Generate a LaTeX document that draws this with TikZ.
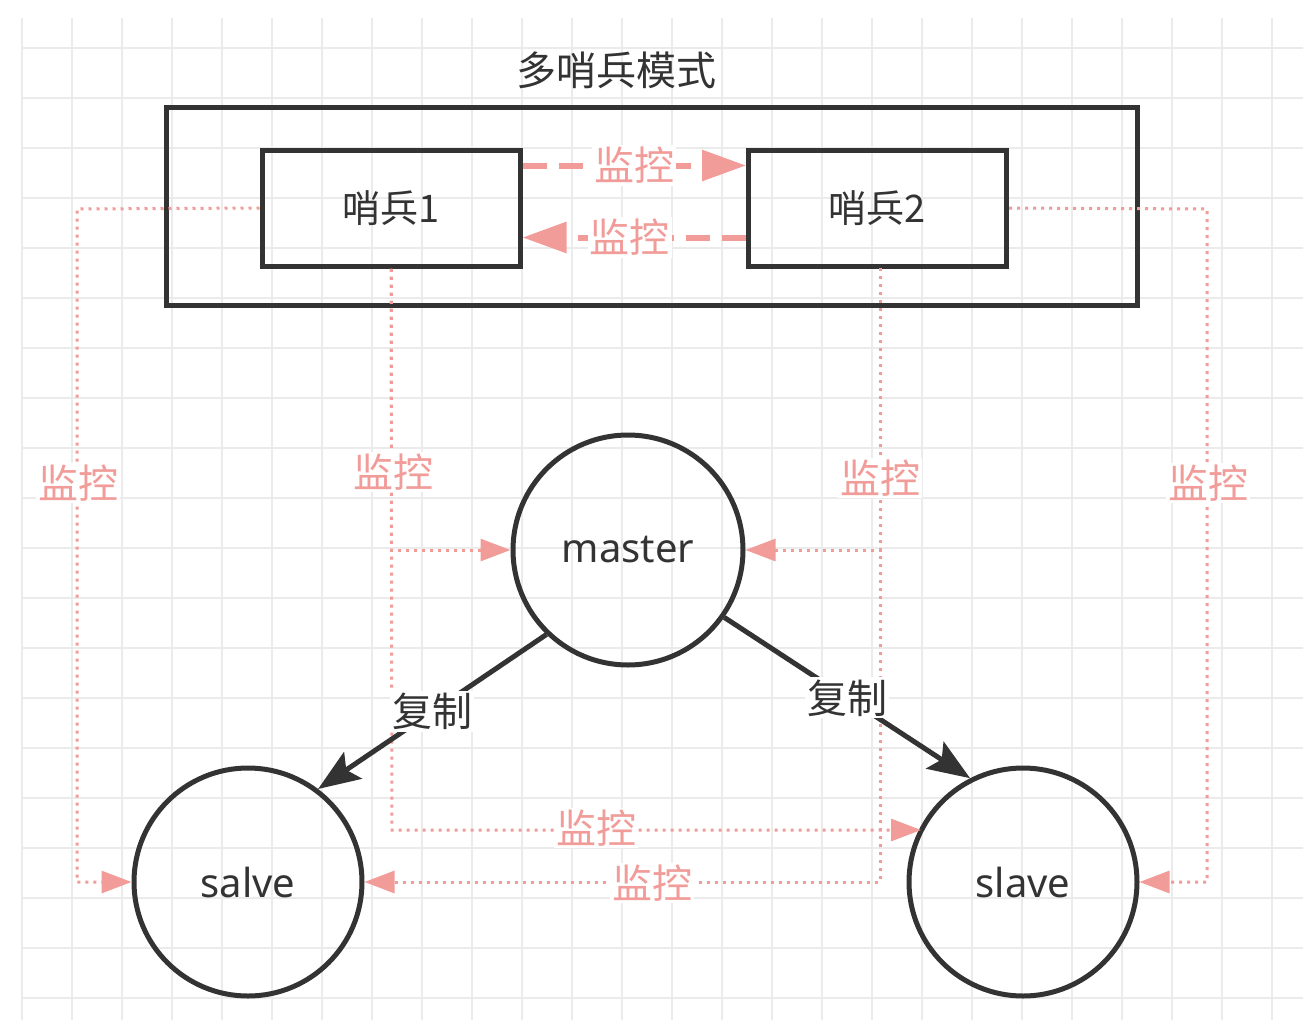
\documentclass[tikz,border=0pt]{standalone}
\usepackage{fontspec}
\setmainfont{Noto Sans CJK SC}
\newfontfamily\latinf{Noto Sans}
\usetikzlibrary{arrows.meta,calc}
\definecolor{pinkc}{HTML}{F19C99}
\definecolor{darkc}{HTML}{333333}
\definecolor{gridc}{HTML}{EBEBEB}
\begin{document}
\begin{tikzpicture}[x=1pt,y=-1pt,
  box/.style={draw=darkc,line width=5pt,minimum width=258pt,minimum height=116pt,inner sep=0pt,
    font=\fontsize{38}{44}\selectfont,text=darkc},
  outerbox/.style={draw=darkc,line width=5pt,minimum width=971pt,minimum height=198pt,inner sep=0pt},
  circ/.style={circle,draw=darkc,line width=5pt,minimum size=228pt,inner sep=0pt,
    font=\latinf\fontsize{40}{46}\selectfont,text=darkc},
  mon/.style={draw=pinkc,line width=3pt,dash pattern=on 3pt off 5pt,-{Triangle[length=30pt,width=22pt]}},
  dash arrow/.style={draw=pinkc,line width=6pt,dash pattern=on 24pt off 12pt,-{Triangle[length=44pt,width=30pt]}},
  lab/.style={fill=white,inner sep=2pt,text=pinkc,font=\fontsize{40}{46}\selectfont},
  copyarrow/.style={draw=darkc,line width=5pt,-{Stealth[length=42pt,width=32pt,inset=8pt]}},
  copylab/.style={fill=white,inner sep=2pt,text=darkc,font=\fontsize{40}{46}\selectfont}
]
\useasboundingbox[fill=white] (0,0) rectangle (1312,1026);
% grid
\foreach \x in {22,72,...,1272} \draw[gridc,line width=1.8pt] (\x,18) -- (\x,1020);
\foreach \y in {48,98,...,998} \draw[gridc,line width=1.8pt] (22,\y) -- (1303,\y);

\node[text=darkc,font=\fontsize{40}{46}\selectfont] (title) at (616,70) {多哨兵模式};
\node[outerbox] (outer) at (651.5,206) {};
\node[box] (s1) at (391,208) {哨兵1};
\node[box] (s2) at (877.5,208) {哨兵2};
\node[circ,minimum size=230pt] (master) at (628,550) {master};
\node[circ] (salve) at (248,882) {salve};
\node[circ] (slave) at (1023,882) {slave};

% dashed arrows between sentinels
\draw[dash arrow] ($(s1.north east)+(0,18)$) -- node[lab]{监控} ($(s2.north west)+(0,18)$);
\draw[dash arrow] ($(s2.south west)+(0,-31)$) -- node[lab,pos=0.52]{监控} ($(s1.south east)+(0,-31)$);

% dotted monitoring paths
\coordinate (c1) at (77,209);
\draw[mon] (s1.west) -- (c1) |- (salve.west);
\node[lab] at (78,483) {监控};

\coordinate (c2) at (392,830);
\draw[mon] (s1.south) |- (master.west);
\draw[mon] (s1.south) -- (c2) -- ($(slave.center)+(-102,-52)$);
\node[lab] at (393,472) {监控};
\node[lab] at (596,828) {监控};

\coordinate (c3) at (880,268);
\draw[mon] (c3) |- (master.east);
\draw[mon] (c3) |- (salve.east);
\node[lab] at (880,478) {监控};
\node[lab] at (652,883) {监控};

\coordinate (c4) at (1207,209);
\draw[mon] (s2.east) -- (c4) |- (slave.east);
\node[lab] at (1208,483) {监控};

% copy arrows
\draw[copyarrow] (master.226) -- node[copylab]{复制} (salve.53);
\draw[copyarrow] (master.325) -- node[copylab]{复制} (slave.117);
\end{tikzpicture}
\end{document}
